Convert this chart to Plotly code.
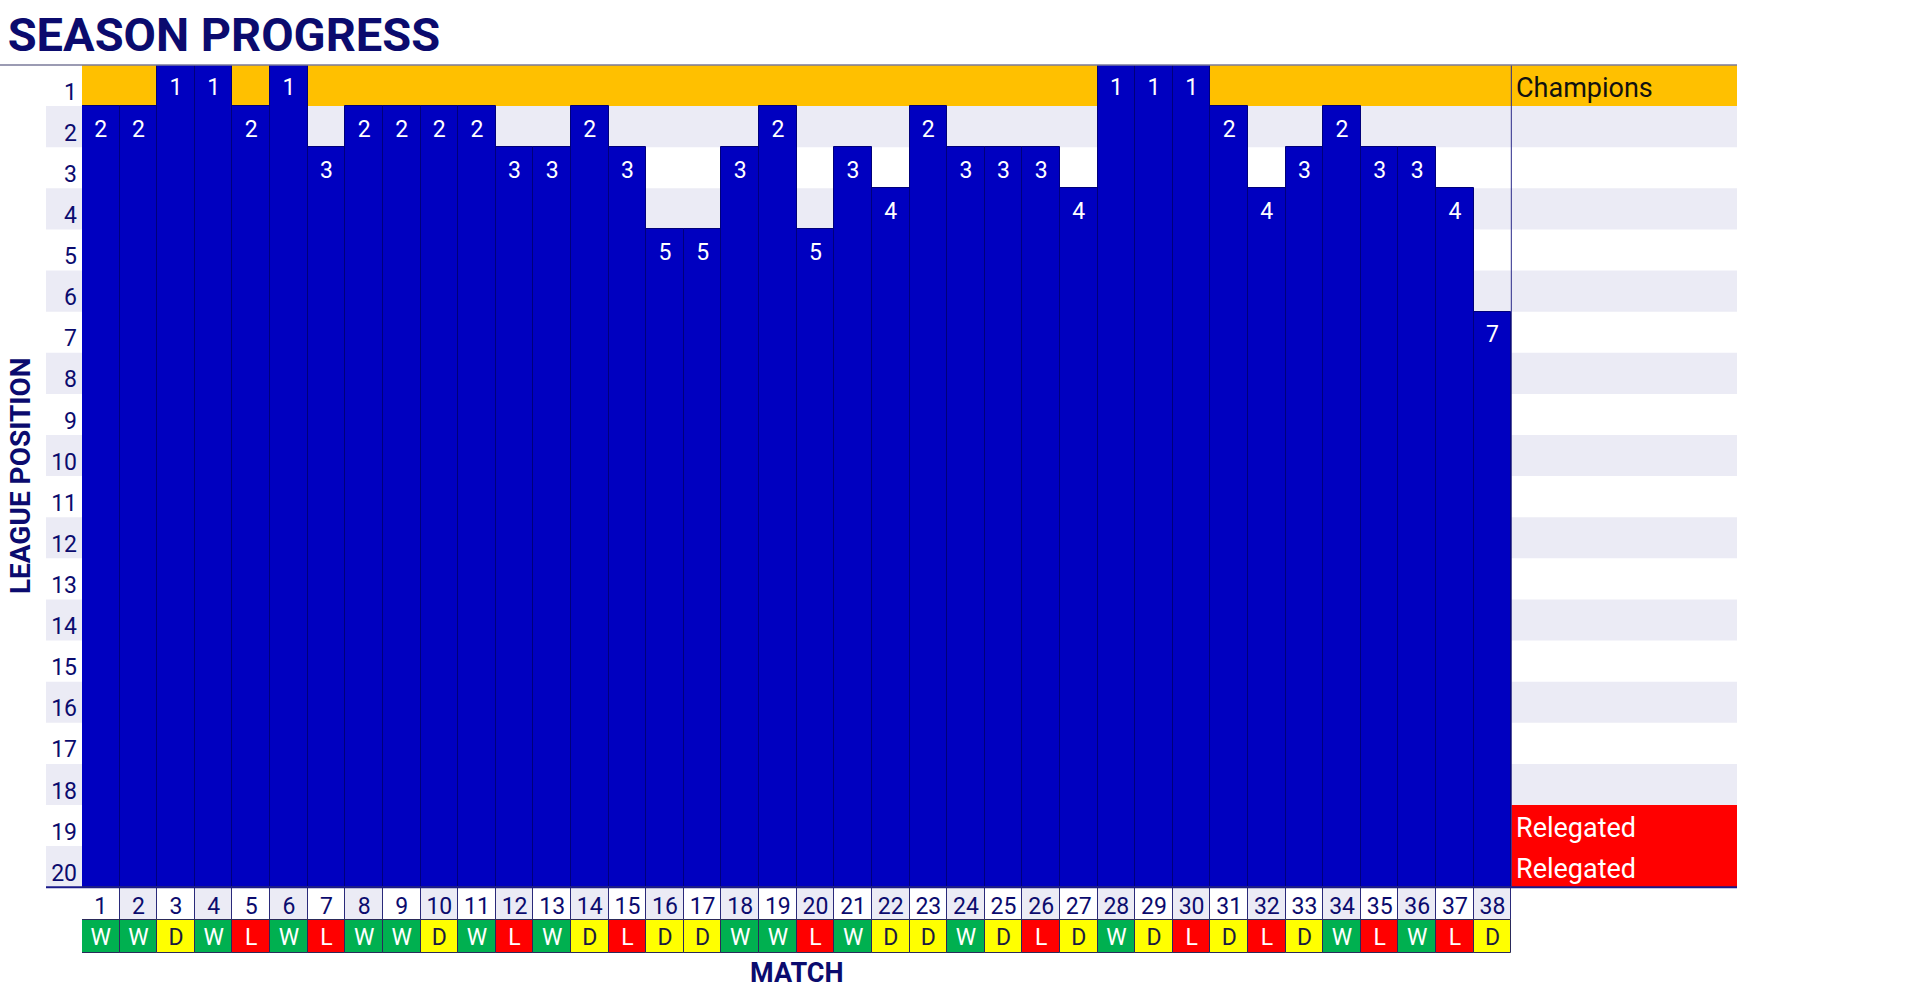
import plotly.graph_objects as go

# ---------------- data ----------------
matches = list(range(1, 39))
positions = [2, 2, 1, 1, 2, 1, 3, 2, 2, 2, 2, 3, 3, 2, 3, 5, 5, 3, 2, 5,
             3, 4, 2, 3, 3, 3, 4, 1, 1, 1, 2, 4, 3, 2, 3, 3, 4, 7]
results = ["W", "W", "D", "W", "L", "W", "L", "W", "W", "D", "W", "L", "W", "D", "L", "D", "D", "W", "W", "L",
           "W", "D", "D", "W", "D", "L", "D", "W", "D", "L", "D", "L", "D", "W", "L", "W", "L", "D"]
league_rows = list(range(1, 21))
zone_labels = {1: "Champions", 19: "Relegated", 20: "Relegated"}

# ---------------- style ----------------
NAVY = "#0B0B6E"
BLUE = "#0000C0"
SEP = "#00007A"
GOLD = "#FFC000"
LAV = "#EBEBF5"
RED = "#FF0000"
RES_FILL = {"W": "#00B050", "D": "#FFFF00", "L": "#FF0000"}
RES_TEXT = {"W": "#FFFFFF", "D": "#1A1A40", "L": "#FFFFFF"}
FONT = "Roboto"
TXT_NUDGE = 0.1  # small downward nudge of cell labels (in row units)

W, H = 1919, 991
ML, MR, MT, MB = 82, 182, 65, 38
PW = W - ML - MR
PH = H - MT - MB
N = len(matches)
LEG_COLS = 6
X0, X1 = 0.5, N + 0.5 + LEG_COLS
Y_TOP, Y_BOT = 0.5, len(league_rows) + 0.5
NUM_H, RES_H = 0.8, 0.8
Y_END = Y_BOT + NUM_H + RES_H

fig = go.Figure()

# league-position bars (from position down to the bottom of the table)
fig.add_trace(go.Bar(
    x=matches, base=[p - 0.5 for p in positions], y=[Y_BOT - (p - 0.5) for p in positions],
    width=1, marker=dict(color=BLUE, line=dict(color=SEP, width=1)),
    hoverinfo="skip", showlegend=False))
fig.add_trace(go.Scatter(
    x=matches, y=[p + TXT_NUDGE for p in positions], mode="text", text=[str(p) for p in positions],
    textfont=dict(family=FONT, size=23, color="white"), hoverinfo="skip", showlegend=False))

# match-number row
fig.add_trace(go.Bar(
    x=matches, base=[Y_BOT] * N, y=[NUM_H] * N, width=1,
    marker=dict(color=["#FFFFFF" if m % 2 else LAV for m in matches], line=dict(color="#2A2A7A", width=1)),
    hoverinfo="skip", showlegend=False))
fig.add_trace(go.Scatter(
    x=matches, y=[Y_BOT + NUM_H / 2 + TXT_NUDGE] * N, mode="text", text=[str(m) for m in matches],
    textfont=dict(family=FONT, size=23, color=NAVY), hoverinfo="skip", showlegend=False))

# result row
fig.add_trace(go.Bar(
    x=matches, base=[Y_BOT + NUM_H] * N, y=[RES_H] * N, width=1,
    marker=dict(color=[RES_FILL[r] for r in results], line=dict(color="#2A2A5A", width=1)),
    hoverinfo="skip", showlegend=False))
fig.add_trace(go.Scatter(
    x=matches, y=[Y_BOT + NUM_H + RES_H / 2 + TXT_NUDGE * 0.6] * N, mode="text", text=results,
    textfont=dict(family=FONT, size=23, color=[RES_TEXT[r] for r in results]),
    hoverinfo="skip", showlegend=False))

shapes = []
# background rows
for r in league_rows:
    if r == 1:
        fill = GOLD
    elif r % 2 == 0:
        fill = LAV
    else:
        fill = None
    if fill:
        shapes.append(dict(type="rect", xref="x", yref="y", x0=X0, x1=X1, y0=r - 0.5, y1=r + 0.5,
                           fillcolor=fill, line=dict(width=0), layer="below"))
    if r % 2 == 0:
        shapes.append(dict(type="rect", xref="paper", yref="y", x0=-36 / PW, x1=0, y0=r - 0.5, y1=r + 0.5,
                           fillcolor=LAV, line=dict(width=0), layer="below"))
# relegation zone in legend column
shapes.append(dict(type="rect", xref="x", yref="y", x0=N + 0.5, x1=X1, y0=18.5, y1=20.5,
                   fillcolor=RED, line=dict(width=0), layer="below"))
# legend divider
shapes.append(dict(type="line", xref="x", yref="y", x0=N + 0.5, x1=N + 0.5, y0=Y_TOP, y1=Y_BOT,
                   line=dict(color="#2A2A8A", width=1)))
# top rule
shapes.append(dict(type="line", xref="paper", yref="paper", x0=-ML / PW, x1=1, y0=1, y1=1,
                   line=dict(color="#7A7A9A", width=1.5)))
# bottom rule
shapes.append(dict(type="line", xref="paper", yref="y", x0=-36 / PW, x1=1, y0=Y_BOT, y1=Y_BOT,
                   line=dict(color="#1A1A8A", width=2)))

annotations = []
for r, lab in zone_labels.items():
    annotations.append(dict(x=N + 0.58, y=r + TXT_NUDGE * 0.5, xref="x", yref="y", text=lab, showarrow=False,
                            xanchor="left", yanchor="middle",
                            font=dict(family=FONT, size=27, color="#111111" if r == 1 else "white")))
annotations.append(dict(x=(N + 1) / 2, y=-20 / PH, xref="x", yref="paper", text="<b>MATCH</b>",
                        showarrow=False, xanchor="center", yanchor="middle",
                        font=dict(family=FONT, size=27, color=NAVY)))
annotations.append(dict(x=-62 / PW, y=(Y_TOP + Y_BOT) / 2, xref="paper", yref="y", text="<b>LEAGUE POSITION</b>",
                        textangle=-90, showarrow=False, xanchor="center", yanchor="middle",
                        font=dict(family=FONT, size=28, color=NAVY)))

fig.update_layout(
    width=W, height=H, margin=dict(l=ML, r=MR, t=MT, b=MB, pad=0),
    paper_bgcolor="white", plot_bgcolor="white", barmode="overlay", bargap=0,
    title=dict(text="<b>SEASON PROGRESS</b>", x=0.004, xref="container", xanchor="left",
               y=1 - 35 / H, yref="container", yanchor="middle",
               font=dict(family=FONT, size=47, color=NAVY)),
    xaxis=dict(range=[X0, X1], showticklabels=False, showgrid=False, zeroline=False, showline=False,
               ticks="", fixedrange=True),
    yaxis=dict(range=[Y_END, Y_TOP], tickmode="array", tickvals=league_rows,
               ticktext=[str(r) for r in league_rows], showgrid=False, zeroline=False, showline=False,
               ticks="", ticklabelstandoff=4, ticklabelshift=-6,
               tickfont=dict(family=FONT, size=23, color=NAVY), fixedrange=True),
    shapes=shapes, annotations=annotations, showlegend=False,
)

fig.write_html("out.html", config={"displayModeBar": False},
               post_script="document.body.style.margin='0';document.body.style.overflow='hidden';")
